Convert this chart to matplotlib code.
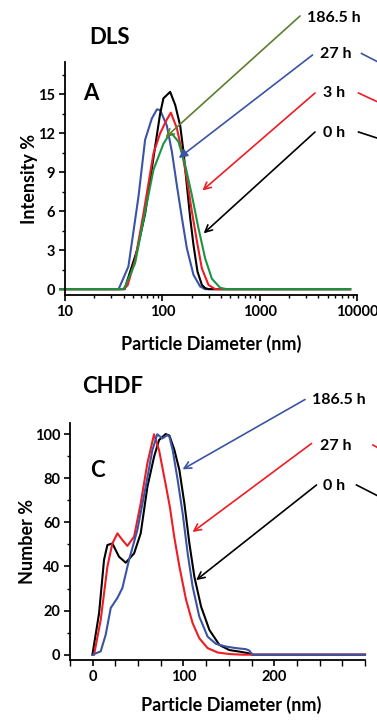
import numpy as np
import matplotlib
matplotlib.use("Agg")
import matplotlib.pyplot as plt
from matplotlib.lines import Line2D
from matplotlib.ticker import FixedLocator, MultipleLocator, NullFormatter

plt.rcParams['font.family'] = ['Lato', 'DejaVu Sans']
plt.rcParams['font.weight'] = 'bold'

W, H = 377, 721

# ---- DLS data (intensity %, log size axis) ----
dls_0h_x = [8.9, 41, 43.4, 55, 66.5, 84.3, 94.8, 102.6, 120.3, 135.5, 152.5, 164.9, 178.6, 193.2, 209,
            229.6, 254.7, 275.6, 300, 8500]
dls_0h_y = [0, 0, 0.6, 3.0, 5.8, 10.97, 13.5, 14.7, 15.2, 14.2, 12.6, 10.6, 8.0, 5.5, 3.4,
            1.36, 0.33, 0.08, 0, 0]

dls_3h_x = [8.9, 40, 44, 52.5, 63.9, 81.1, 94.8, 110, 122.3, 141, 158.8, 178.6, 201, 226.5, 254.7,
            298, 349, 8500]
dls_3h_y = [0, 0, 0.3, 2.25, 5.8, 10.46, 12.0, 13.0, 13.6, 12.4, 10.6, 8.5, 6.0, 3.7, 1.6,
            0.33, 0, 0]

dls_27h_x = [8.9, 35.5, 37, 44.8, 56.8, 66.5, 78, 88, 95, 100, 111.2, 125.3, 141, 158.8, 178.6, 209,
             244.9, 275, 8500]
dls_27h_y = [0, 0, 0.3, 1.74, 7.1, 11.5, 13.15, 13.85, 13.8, 13.4, 12.6, 10.6, 8.0, 5.5, 3.15, 1.1,
             0.2, 0, 0]

dls_186h_x = [8.9, 39.8, 42, 52.5, 63.9, 81.1, 102.6, 115, 125.3, 146.5, 171.7, 201, 235, 275.6,
              323, 393.6, 461, 8500]
dls_186h_y = [0, 0, 0.3, 2.0, 5.3, 9.2, 11.2, 11.8, 11.98, 11.36, 9.56, 7.25, 4.7, 2.36,
              0.8, 0.1, 0, 0]

# ---- CHDF data (number %, linear size axis) ----
chdf_0h_x = [-0.3, 7, 12.5, 16.2, 21.7, 29, 36.4, 45.6, 52.9, 60.2, 67.6, 73.1, 80.4, 84.5, 90, 95.5,
             101, 106.5, 112, 119.4, 128.6, 139.6, 150.6, 161.6, 172.6, 176, 300]
chdf_0h_y = [0, 18.7, 43, 49.7, 50.4, 44.4, 41.7, 45.9, 55, 75.9, 89.7, 97.3, 100, 99.3, 92.8, 83.7,
             68.6, 50.5, 35.4, 21.8, 11.2, 4.4, 2.1, 1.4, 0.6, 0, 0]

chdf_27h_x = [1.5, 8.8, 16.2, 21.7, 27.2, 32.7, 38.2, 45.6, 52.9, 60.2, 67.6, 73.1, 80, 85, 90, 95.5,
              102.8, 110.1, 117.4, 126.6, 137.6, 150.6, 165, 300]
chdf_27h_y = [0, 15.7, 39.9, 50.4, 55, 52, 49.3, 53.5, 68.6, 86.7, 99.9, 92.7, 78, 67, 53, 40,
              25, 14.3, 7.5, 3.0, 1.0, 0.3, 0, 0]

chdf_186h_x = [-0.3, 8.8, 14.3, 19.9, 27.2, 32.7, 40, 49.2, 58.4, 65.7, 71.2, 76.7, 82.2, 84.5, 88.1,
               93.6, 99.1, 104.6, 110.1, 117.4, 126.6, 135.8, 146.8, 157.8, 168.8, 172.5, 176, 300]
chdf_186h_y = [0, 1.5, 9, 21.2, 25.7, 30.2, 42.9, 56.5, 76.1, 92.7, 99.9, 98, 99.5, 98.8, 92.8,
               79.2, 64.1, 46, 30.9, 17.3, 8.2, 4.9, 3.7, 3.0, 2.5, 1.9, 0, 0]

c_black = 'black'
c_red = '#ee1c24'
c_blue = '#3a53a4'
c_green = '#1a9440'
c_olive = '#5f7d2e'

fig = plt.figure(figsize=(W / 100, H / 100), dpi=100)


def fx(px):
    return px / W


def fy(py):
    return 1 - py / H


def style_axes(ax):
    for s in ['top', 'right']:
        ax.spines[s].set_visible(False)
    for s in ['left', 'bottom']:
        ax.spines[s].set_linewidth(1.3)
    ax.tick_params(which='major', direction='out', length=4, width=1.2, labelsize=10.5, pad=3)
    ax.tick_params(which='minor', direction='out', length=2.5, width=1.0)
    for lab in ax.get_xticklabels() + ax.get_yticklabels():
        lab.set_fontweight('bold')


def pointer(ax, tip, start, color, style='->'):
    ax.annotate('', xy=tip, xycoords='data',
                xytext=(fx(start[0]), fy(start[1])), textcoords='figure fraction',
                arrowprops=dict(arrowstyle=style + ',head_length=0.5,head_width=0.25',
                                color=color, lw=1.2, shrinkA=0, shrinkB=0),
                annotation_clip=False)


def stub(p0, p1, color):
    fig.add_artist(Line2D([fx(p0[0]), fx(p1[0])], [fy(p0[1]), fy(p1[1])],
                          transform=fig.transFigure, color=color, lw=1.2))


# ---------------- DLS panel ----------------
ax1 = fig.add_axes([fx(65), fy(295), fx(357) - fx(65), fy(62) - fy(295)])
ax1.set_xscale('log')
ax1.set_xlim(10, 10000)
ax1.set_ylim(-0.45, 17.5)
lw = 1.5
ax1.plot(dls_27h_x, dls_27h_y, color=c_blue, lw=lw, clip_on=False)
ax1.plot(dls_0h_x, dls_0h_y, color=c_black, lw=lw, clip_on=False)
ax1.plot(dls_3h_x, dls_3h_y, color=c_red, lw=lw, clip_on=False)
ax1.plot(dls_186h_x, dls_186h_y, color=c_green, lw=lw, clip_on=False)
ax1.set_xticks([10, 100, 1000, 10000])
ax1.set_xticklabels(['10', '100', '1000', '10000'])
ax1.xaxis.set_minor_locator(FixedLocator([m * 10 ** d for d in range(1, 4) for m in range(2, 10)]))
ax1.xaxis.set_minor_formatter(NullFormatter())
ax1.set_yticks([0, 3, 6, 9, 12, 15])
ax1.yaxis.set_minor_locator(MultipleLocator(1.5))
style_axes(ax1)
ax1.set_xlabel('Particle Diameter (nm)', fontsize=13, fontweight='bold')
ax1.set_ylabel('Intensity %', fontsize=13, fontweight='bold')
ax1.xaxis.set_label_coords(0.5, -0.17)
ax1.yaxis.set_label_coords(-0.093, 0.5)

fig.text(fx(109.5), fy(37), 'DLS', fontsize=16, fontweight='bold', ha='center', va='center')
fig.text(fx(91), fy(93), 'A', fontsize=16, fontweight='bold', ha='center', va='center')

pointer(ax1, (108, 11.7), (300, 16), c_olive)
pointer(ax1, (147.6, 10.1), (312.5, 55), c_blue, '-|>')
pointer(ax1, (258, 7.6), (315, 93), c_red)
pointer(ax1, (266, 4.3), (315, 132), c_black)
fig.text(fx(307), fy(17.5), '186.5 h', fontsize=11.5, fontweight='bold', va='center')
fig.text(fx(320), fy(54), '27 h', fontsize=11.5, fontweight='bold', va='center')
fig.text(fx(323), fy(93), '3 h', fontsize=11.5, fontweight='bold', va='center')
fig.text(fx(323), fy(133), '0 h', fontsize=11.5, fontweight='bold', va='center')
stub((361.5, 53.5), (380, 63), c_blue)
stub((358.5, 93), (380, 103), c_red)
stub((358.5, 132), (380, 139), c_black)

# ---------------- CHDF panel ----------------
ax2 = fig.add_axes([fx(70), fy(660), fx(365) - fx(70), fy(423) - fy(660)])
ax2.set_xlim(-25, 300)
ax2.set_ylim(-2.4, 105)
ax2.plot(chdf_0h_x, chdf_0h_y, color=c_black, lw=lw, clip_on=False)
ax2.plot(chdf_27h_x, chdf_27h_y, color=c_red, lw=lw, clip_on=False)
ax2.plot(chdf_186h_x, chdf_186h_y, color=c_blue, lw=lw, clip_on=False)
ax2.set_xticks([0, 100, 200])
ax2.xaxis.set_minor_locator(FixedLocator([-25, 25, 50, 75, 125, 150, 175, 225, 250, 275, 300]))
ax2.set_yticks([0, 20, 40, 60, 80, 100])
ax2.yaxis.set_minor_locator(MultipleLocator(10))
style_axes(ax2)
ax2.tick_params(axis='x', which='minor', length=4)
ax2.set_xlabel('Particle Diameter (nm)', fontsize=13, fontweight='bold')
ax2.set_ylabel('Number %', fontsize=13, fontweight='bold')
ax2.xaxis.set_label_coords(0.546, -0.15)
ax2.yaxis.set_label_coords(-0.115, 0.5)

fig.text(fx(112.5), fy(386.5), 'CHDF', fontsize=16, fontweight='bold', ha='center', va='center')
fig.text(fx(97.5), fy(470.5), 'C', fontsize=16, fontweight='bold', ha='center', va='center')

pointer(ax2, (99, 84), (305, 399.5), c_blue)
pointer(ax2, (110, 55.6), (311.5, 443.5), c_red)
pointer(ax2, (114, 33.8), (316.5, 485), c_black)
fig.text(fx(311.5), fy(400.5), '186.5 h', fontsize=11.5, fontweight='bold', va='center')
fig.text(fx(320), fy(446.5), '27 h', fontsize=11.5, fontweight='bold', va='center')
fig.text(fx(323), fy(486.5), '0 h', fontsize=11.5, fontweight='bold', va='center')
stub((373, 445), (380, 449), c_red)
stub((356.5, 485), (380, 497), c_black)

fig.savefig('out.png', dpi=100)
